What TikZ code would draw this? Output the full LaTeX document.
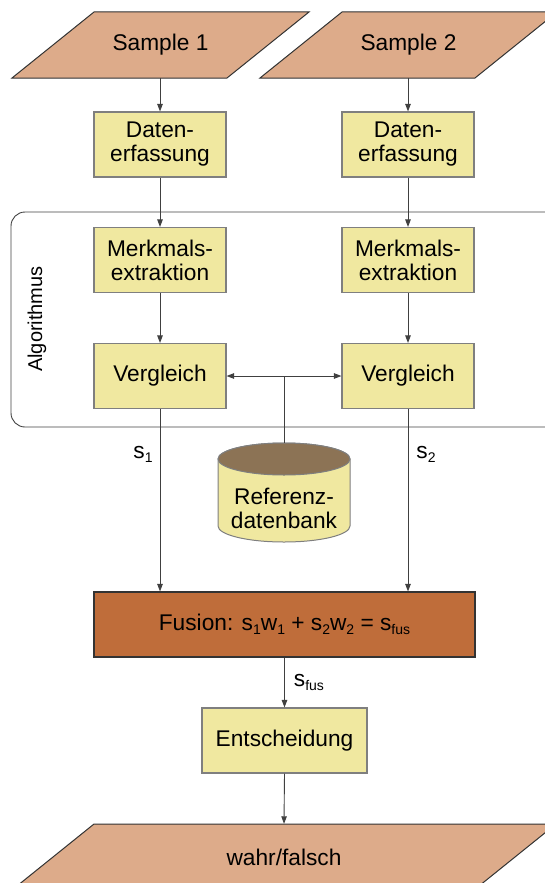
\documentclass[tikz,border=0pt]{standalone}
\usepackage{fontspec}
\setmainfont{Liberation Sans}
\usetikzlibrary{arrows.meta,backgrounds,calc}

\definecolor{parafill}{HTML}{DDAB8A}
\definecolor{boxfill}{HTML}{F0E8A0}
\definecolor{fusfill}{HTML}{BF6D3A}
\definecolor{dbtop}{HTML}{8C7355}
\definecolor{boxline}{HTML}{7F7F7F}
\definecolor{darkline}{HTML}{333333}
\definecolor{wire}{HTML}{404040}

\newcommand\mainsz{\fontsize{22.7pt}{24pt}\selectfont}
\newcommand\idx[1]{\raisebox{-4pt}{\fontsize{14pt}{14pt}\selectfont #1}}
% parallelogram around a node: #1 node, #2 top edge length
\newcommand\parashape[2]{($(#1.center)+({-#2/2+41},-33)$) -- ++(#2,0) -- ++(-82,66) -- ++(-#2,0) -- cycle}

\begin{document}
\begin{tikzpicture}[x=1pt,y=-1pt,
  box/.style={draw=boxline, fill=boxfill, line width=1.1pt, minimum width=132,
              minimum height=65, inner sep=0pt, align=center, font=\mainsz},
  txt/.style={inner sep=0pt, align=center, font=\mainsz},
  para/.style={draw=darkline, fill=parafill, line width=1pt},
  arr/.style={draw=wire, line width=0.9pt, -{Triangle[length=7.5pt,width=5.5pt]}},
  wireline/.style={draw=wire, line width=0.9pt},
  frame/.style={draw=wire, line width=0.9pt, rounded corners=14pt},
  lbl/.style={inner sep=0pt, font=\mainsz}
]
\useasboundingbox (0,0) rectangle (545,883);
\clip (0,0) rectangle (545,883);

% algorithm frame
\draw[frame] (11,212) rectangle (600,427);
\node[rotate=90, inner sep=0pt, font=\fontsize{20pt}{22pt}\selectfont] (alg) at (37,319) {Algorithmus};

% inputs
\node[txt, minimum width=215, minimum height=66] (s1) at (160.5,45) {Sample 1};
\node[txt, minimum width=215, minimum height=66] (s2) at (408.5,45) {Sample 2};

% left column
\node[box] (d1) at (160,144.5) {Daten-\\erfassung};
\node[box] (m1) at (160,260) {Merkmals-\\extraktion};
\node[box] (v1) at (160,376) {Vergleich};

% right column
\node[box] (d2) at (408,144.5) {Daten-\\erfassung};
\node[box] (m2) at (408,260) {Merkmals-\\extraktion};
\node[box] (v2) at (408,376) {Vergleich};

% reference database
\coordinate (dbtopc) at (284,443);
\draw[draw=boxline, fill=boxfill, line width=1pt]
  (218,459) -- (218,526)
  arc[start angle=180, end angle=360, x radius=66pt, y radius=16pt]
  -- (350,459)
  arc[start angle=0, end angle=180, x radius=66pt, y radius=16pt] -- cycle;
\draw[draw=boxline, fill=dbtop, line width=1pt] (284,459) ellipse[x radius=66pt, y radius=16pt];
\node[txt] (db) at (284,508) {Referenz-\\datenbank};

% fusion and decision
\node[box, fill=fusfill, draw=darkline, minimum width=381] (fus) at (284.5,624.5)
  {Fusion: s\idx{1}w\idx{1} + s\idx{2}w\idx{2} = s\idx{fus}};
\node[box, minimum width=165] (ent) at (284.5,740.5) {Entscheidung};
\node[txt, minimum width=462, minimum height=66] (out) at (284,857) {wahr/falsch};

% parallelogram outlines behind their labels
\begin{scope}[on background layer]
  \draw[para] \parashape{s1}{215};
  \draw[para] \parashape{s2}{215};
  \draw[para] \parashape{out}{462};
\end{scope}

% connectors
\draw[arr] (s1.south -| d1) -- (d1.north);
\draw[arr] (s2.south -| d2) -- (d2.north);
\draw[arr] (d1) -- (m1);
\draw[arr] (d2) -- (m2);
\draw[arr] (m1) -- (v1);
\draw[arr] (m2) -- (v2);

\coordinate (j) at (dbtopc |- v1);
\draw[wireline] (dbtopc) -- (j);
\draw[arr] (j) -- (v1.east);
\draw[arr] (j) -- (v2.west);

\draw[arr] (v1.south) -- (v1.south |- fus.north) node[lbl, pos=0.25, anchor=east, xshift=-7pt] (l1) {s\idx{1}};
\draw[arr] (v2.south) -- (v2.south |- fus.north) node[lbl, pos=0.25, anchor=west, xshift=8pt] (l2) {s\idx{2}};

\draw[arr] (fus.south) -- (ent.north) node[lbl, midway, anchor=west, xshift=9pt] (lf) {s\idx{fus}};
\draw[arr] (ent.south) -- (out.north);
\end{tikzpicture}
\end{document}
